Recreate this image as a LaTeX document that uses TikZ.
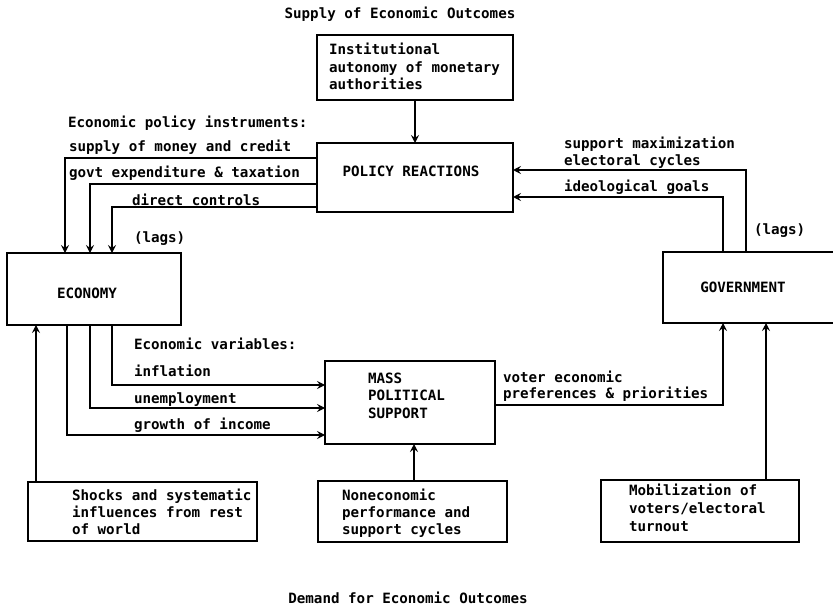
\documentclass[tikz,border=0pt]{standalone}
\usepackage{fontspec}
\setmainfont{DejaVu Sans Mono}
\usetikzlibrary{arrows.meta,calc}
\newcommand\plotsz[1]{\fontsize{14.2}{#1}\selectfont\bfseries}
\begin{document}
\begin{tikzpicture}[x=1pt,y=-1pt,
  every node/.style={inner sep=0pt,outer sep=0pt},
  box/.style={draw,line width=1.8pt,anchor=north west},
  txt/.style={anchor=base west,align=left,font=\plotsz{17.5}},
  ctr/.style={anchor=base,font=\plotsz{17.5}},
  arr/.style={line width=1.8pt,-{Stealth[length=8pt,width=8pt,inset=3pt]}}]
\useasboundingbox (0,0) rectangle (833,607);
\fill[white] (0,0) rectangle (833,607);
\clip (0,0) rectangle (833,607);

% boxes
\node[box,minimum width=196pt,minimum height=65pt] (inst) at (317,35) {};
\node[box,minimum width=196pt,minimum height=69pt] (pol) at (317,143) {};
\node[box,minimum width=174pt,minimum height=72pt] (eco) at (7,253) {};
\node[box,minimum width=170pt,minimum height=83pt] (mass) at (325,361) {};
\node[box,minimum width=220pt,minimum height=71pt] (gov) at (663,252) {};
\node[box,minimum width=229pt,minimum height=59pt] (shocks) at (28,482) {};
\node[box,minimum width=189pt,minimum height=61pt] (nonec) at (318,481) {};
\node[box,minimum width=198pt,minimum height=62pt] (mobil) at (601,480) {};

% titles
\node[ctr] (supply) at (400,19) {Supply of Economic Outcomes};
\node[ctr] (demand) at (408,603) {Demand for Economic Outcomes};

% box texts (base = last line)
\node[txt,font=\plotsz{17.5}] (instT) at (329,90) {Institutional\\autonomy of monetary\\authorities};
\node[ctr] (polT) at (411,177) {POLICY REACTIONS};
\node[ctr] (ecoT) at (87,298) {ECONOMY};
\node[txt,font=\plotsz{17.5}] (massT) at (368,418) {MASS\\POLITICAL\\SUPPORT};
\node[ctr] (govT) at (743,292) {GOVERNMENT};
\node[txt,font=\plotsz{17}] (shocksT) at (72,534) {Shocks and systematic\\influences from rest\\of world};
\node[txt,font=\plotsz{17}] (nonecT) at (342,534) {Noneconomic\\performance and\\support cycles};
\node[txt,font=\plotsz{18}] (mobilT) at (629,531) {Mobilization of\\voters/electoral\\turnout};

% connector labels
\node[txt] (l1) at (68,128) {Economic policy instruments:};
\node[txt] (l2) at (69,152) {supply of money and credit};
\node[txt] (l3) at (69,178) {govt expenditure \& taxation};
\node[txt] (l4) at (132,205) {direct controls};
\node[txt] (l5) at (134,242) {(lags)};
\node[txt] (l6) at (134,349) {Economic variables:};
\node[txt] (l7) at (134,376) {inflation};
\node[txt] (l8) at (134,403) {unemployment};
\node[txt] (l9) at (134,429) {growth of income};
\node[txt,font=\plotsz{16}] (l10) at (503,398) {voter economic\\preferences \& priorities};
\node[txt,font=\plotsz{17}] (l11) at (564,165) {support maximization\\electoral cycles};
\node[txt] (l12) at (564,191) {ideological goals};
\node[txt] (l13) at (754,234) {(lags)};

% connectors
\draw[arr] (inst.south) -- (pol.north);
\draw[arr] ($(pol.north west)+(0,15)$) -| ($(eco.north west)+(58,0)$);
\draw[arr] ($(pol.north west)+(0,41)$) -| ($(eco.north west)+(83,0)$);
\draw[arr] ($(pol.north west)+(0,64)$) -| ($(eco.north west)+(105,0)$);
\draw[arr] ($(eco.south west)+(105,0)$) |- ($(mass.north west)+(0,24)$);
\draw[arr] ($(eco.south west)+(83,0)$) |- ($(mass.north west)+(0,47)$);
\draw[arr] ($(eco.south west)+(60,0)$) |- ($(mass.north west)+(0,74)$);
\draw[arr] ($(shocks.north west)+(8,0)$) coordinate (s1) -- (s1 |- eco.south);
\draw[arr] ($(nonec.north west)+(96,0)$) coordinate (s2) -- (s2 |- mass.south);
\draw[arr] ($(mass.north east)+(0,44)$) -| ($(gov.south west)+(60,0)$);
\draw[arr] ($(mobil.north west)+(165,0)$) coordinate (s3) -- (s3 |- gov.south);
\draw[arr] ($(gov.north west)+(83,0)$) |- ($(pol.north east)+(0,27)$);
\draw[arr] ($(gov.north west)+(60,0)$) |- ($(pol.north east)+(0,54)$);
\end{tikzpicture}
\end{document}
